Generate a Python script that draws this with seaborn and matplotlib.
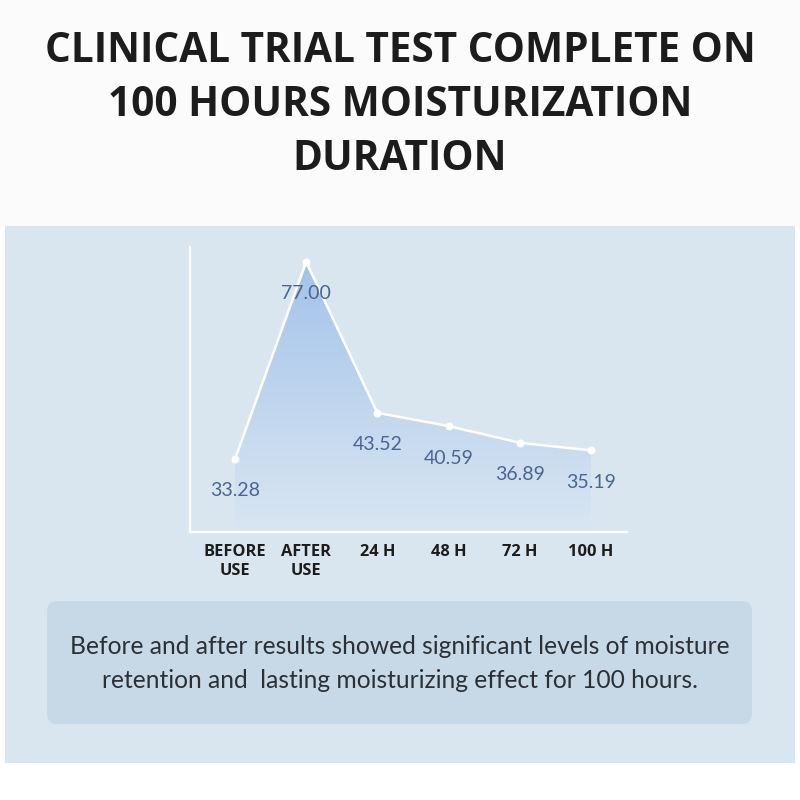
import numpy as np
import pandas as pd
import matplotlib
matplotlib.use("Agg")
import matplotlib.pyplot as plt
import seaborn as sns
from matplotlib.patches import Rectangle, FancyBboxPatch
from matplotlib.colors import LinearSegmentedColormap

# ---- data ----
categories = ["BEFORE\nUSE", "AFTER\nUSE", "24 H", "48 H", "72 H", "100 H"]
values = [33.28, 77.00, 43.52, 40.59, 36.89, 35.19]
value_labels = ["33.28", "77.00", "43.52", "40.59", "36.89", "35.19"]
title_lines = ["CLINICAL TRIAL TEST COMPLETE ON", "100 HOURS MOISTURIZATION", "DURATION"]
note_lines = ["Before and after results showed significant levels of moisture",
              "retention and  lasting moisturizing effect for 100 hours."]

sns.set_theme(style="white")
plt.rcParams["font.family"] = ["Lato", "DejaVu Sans"]

df = pd.DataFrame({"pos": np.arange(len(categories)), "value": values})

fig = plt.figure(figsize=(8, 8), dpi=100)
fig.patch.set_facecolor("#ffffff")

# background panels
fig.patches.append(Rectangle((0, 0.7175), 1, 0.2825, transform=fig.transFigure,
                             facecolor="#fbfbfb", edgecolor="none", zorder=-3))
fig.patches.append(Rectangle((5/800, 1-763/800), 790/800, (763-226)/800, transform=fig.transFigure,
                             facecolor="#d9e6ef", edgecolor="none", zorder=-3))
fig.patches.append(FancyBboxPatch((47/800, 1-724/800), (752-47)/800, (724-601)/800,
                                  boxstyle="round,pad=0,rounding_size=0.013",
                                  transform=fig.transFigure,
                                  facecolor="#c7d9e6", edgecolor="none", zorder=-2))

# title
for i, line in enumerate(title_lines):
    fig.text(0.5, 1 - (52 + 53.5*i)/800, line, ha="center", va="center",
             fontsize=29.2, fontweight="bold", color="#1c1c1c", family=["Open Sans", "DejaVu Sans"])

# note text
for i, line in enumerate(note_lines):
    fig.text(0.5, 1 - (646 + 35*i)/800, line, ha="center", va="center",
             fontsize=17.7, color="#2c3035", family=["Lato", "DejaVu Sans"])

ax = fig.add_axes([190/800, 1-532/800, (627-190)/800, (532-247)/800])
ax.set_zorder(5)
ax.set_facecolor("none")

ymin, ymax = 17.1, 80.3
ax.set_ylim(ymin, ymax)
ax.set_xlim(-0.632, 5.506)

# gradient fill under the line
poly = ax.fill_between(df["pos"], df["value"], ymin, facecolor="none", edgecolor="none")
cmap = LinearSegmentedColormap.from_list("g", ["#d9e6f2", "#bfd5ee", "#a3c2ea"])
grad = np.linspace(0, 1, 256).reshape(-1, 1)
im = ax.imshow(grad, cmap=cmap, aspect="auto", origin="lower",
               extent=[df["pos"].min(), df["pos"].max(), ymin, max(values)], zorder=1)
im.set_clip_path(poly.get_paths()[0], transform=ax.transData)

sns.lineplot(data=df, x="pos", y="value", ax=ax, color="white", linewidth=1.8,
             marker="o", markersize=5, markeredgecolor="white", markerfacecolor="white", zorder=3)

for x, v, lab in zip(df["pos"], values, value_labels):
    ax.annotate(lab, (x, v), xytext=(0, -23), textcoords="offset points",
                ha="center", va="center", fontsize=14, fontweight="normal",
                color="#4a6590", zorder=4)

ax.set_xticks(df["pos"])
ax.set_xticklabels(categories, fontsize=11.8, fontweight="bold", color="#1c1c1c",
                   linespacing=1.2, family=["Open Sans", "DejaVu Sans"])
ax.tick_params(axis="x", length=0, pad=9)
ax.set_yticks([])
ax.set_xlabel("")
ax.set_ylabel("")
ax.set_xlim(-0.632, 5.506)
ax.set_ylim(ymin, ymax)
for s in ["top", "right"]:
    ax.spines[s].set_visible(False)
for s in ["left", "bottom"]:
    ax.spines[s].set_color("white")
    ax.spines[s].set_linewidth(1.6)

fig.savefig("out.png", dpi=100)
